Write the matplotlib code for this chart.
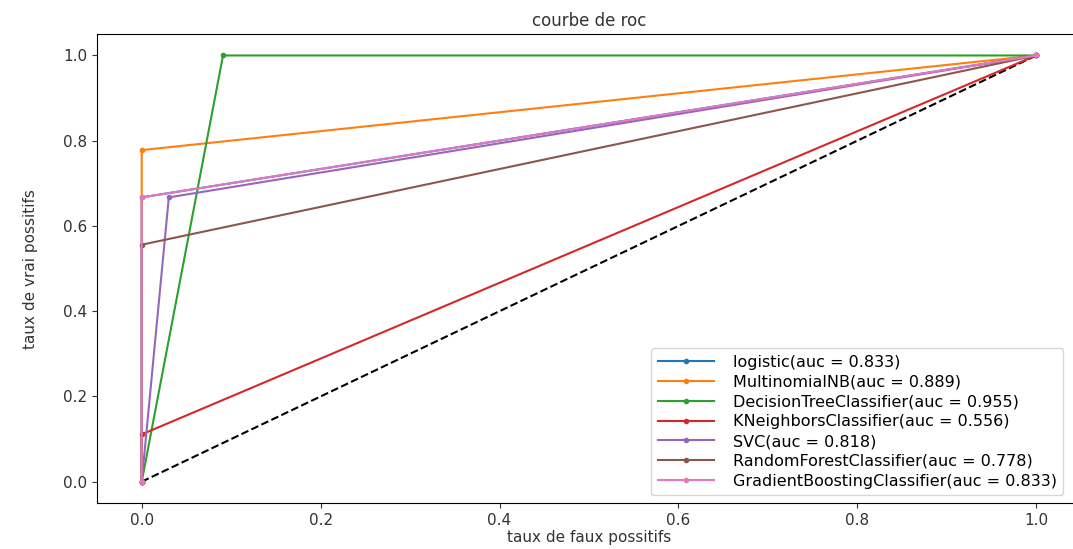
import matplotlib
matplotlib.use("Agg")
import matplotlib.pyplot as plt

# ROC points (fpr, tpr) for each classifier
models = ["logistic", "MultinomialNB", "DecisionTreeClassifier", "KNeighborsClassifier",
          "SVC", "RandomForestClassifier", "GradientBoostingClassifier"]
aucs = [0.833, 0.889, 0.955, 0.556, 0.818, 0.778, 0.833]

fpr_logistic = [0.0, 0.0, 1.0]
tpr_logistic = [0.0, 0.667, 1.0]
fpr_nb = [0.0, 0.0, 1.0]
tpr_nb = [0.0, 0.778, 1.0]
fpr_tree = [0.0, 0.0909, 1.0]
tpr_tree = [0.0, 1.0, 1.0]
fpr_knn = [0.0, 0.0, 1.0]
tpr_knn = [0.0, 0.111, 1.0]
fpr_svc = [0.0, 0.0303, 1.0]
tpr_svc = [0.0, 0.667, 1.0]
fpr_rf = [0.0, 0.0, 1.0]
tpr_rf = [0.0, 0.556, 1.0]
fpr_gb = [0.0, 0.0, 1.0]
tpr_gb = [0.0, 0.667, 1.0]

fprs = [fpr_logistic, fpr_nb, fpr_tree, fpr_knn, fpr_svc, fpr_rf, fpr_gb]
tprs = [tpr_logistic, tpr_nb, tpr_tree, tpr_knn, tpr_svc, tpr_rf, tpr_gb]

fig = plt.figure(figsize=(10.73, 5.49), dpi=100)
ax = fig.add_axes([0.0904, 0.0838, 0.917, 0.854])

ax.plot([0, 1], [0, 1], "k--")
for name, auc, fpr, tpr in zip(models, aucs, fprs, tprs):
    ax.plot(fpr, tpr, marker=".", label=f"{name}(auc = {auc})")

ax.set_xlim(-0.05, 1.05)
ax.set_ylim(-0.05, 1.05)
ax.set_xticks([0.0, 0.2, 0.4, 0.6, 0.8, 1.0])
ax.set_yticks([0.0, 0.2, 0.4, 0.6, 0.8, 1.0])
ax.spines["right"].set_visible(False)  # cut off by the right edge in the original
ax.tick_params(labelsize=11, colors="#333333")
ax.set_title("courbe de roc", fontsize=12, color="#333333")
ax.set_xlabel("taux de faux possitifs", fontsize=11, color="#333333", labelpad=2)
ax.set_ylabel("taux de vrai possitifs", fontsize=11, color="#333333", labelpad=18)
ax.legend(loc="lower right", fontsize=11.5, labelspacing=0.3, handlelength=3.5,
          handletextpad=1.2, bbox_to_anchor=(0.99, 0.0))

fig.savefig("out.png", dpi=100)
